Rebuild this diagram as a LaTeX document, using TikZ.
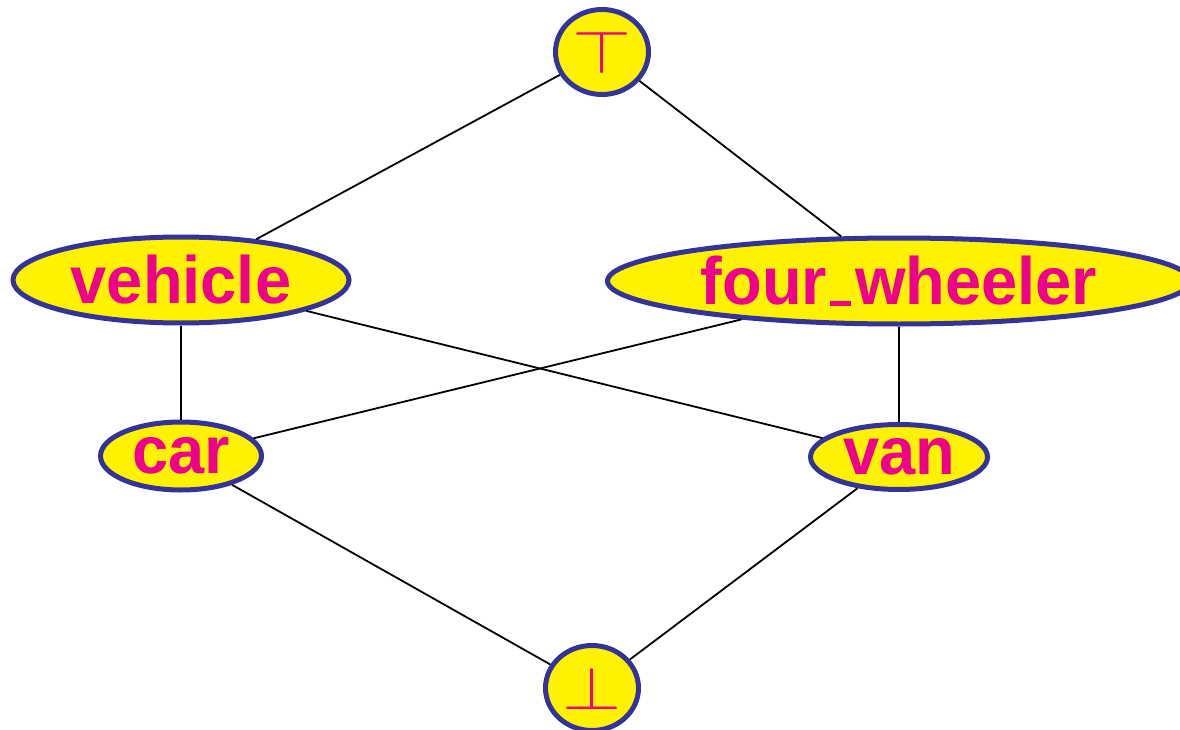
\documentclass[tikz,border=0pt]{standalone}
\usepackage{amsmath, amssymb}
\usepackage{fontspec}
\setmainfont{Liberation Sans}[FakeStretch=0.97]
\usetikzlibrary{shapes.geometric}
\definecolor{sortfill}{HTML}{FFF200}
\definecolor{sortrim}{HTML}{333399}
\definecolor{sorttext}{HTML}{EC008C}
\newcommand{\lowbar}{\kern3pt\rule[-1pt]{21pt}{4.5pt}\kern4pt}

\begin{document}
\begin{tikzpicture}[x=1pt,y=-1pt,
	sort/.style={ellipse, draw=sortrim, line width=5pt, fill=sortfill, text=sorttext,
		inner sep=0pt, font=\bfseries\fontsize{67}{67}\selectfont},
	extreme/.style={sort, minimum width=93pt, minimum height=85pt, font=\fontsize{10}{10}\selectfont},
	link/.style={line width=1.8pt, black}]
\useasboundingbox (0,0) rectangle (1180,730);

\path (602,52) node[extreme] (top) {\scalebox{7.6}[6.1]{$\top$}}
		(181,280) node[sort, minimum width=336pt, minimum height=86pt] (vehicle) {vehicle}
		(899,281) node[sort, minimum width=583pt, minimum height=86pt] (fourwh) {four\lowbar wheeler}
		(181,456) node[sort, minimum width=161pt, minimum height=68pt] (car) {car}
		(899,457) node[sort, minimum width=177pt, minimum height=65pt] (van) {van}
		(592,688) node[extreme] (bot) {\scalebox{7.6}[6.1]{$\bot$}}
;

\draw[link] (node cs:name=top) -- (node cs:name=vehicle);
\draw[link] (node cs:name=top) -- (node cs:name=fourwh);
\draw[link] (node cs:name=vehicle) -- (node cs:name=car);
\draw[link] (node cs:name=vehicle) -- (node cs:name=van);
\draw[link] (node cs:name=fourwh) -- (node cs:name=car);
\draw[link] (node cs:name=fourwh) -- (node cs:name=van);
\draw[link] (node cs:name=car) -- (node cs:name=bot);
\draw[link] (node cs:name=van) -- (node cs:name=bot);

\end{tikzpicture}
\end{document}
